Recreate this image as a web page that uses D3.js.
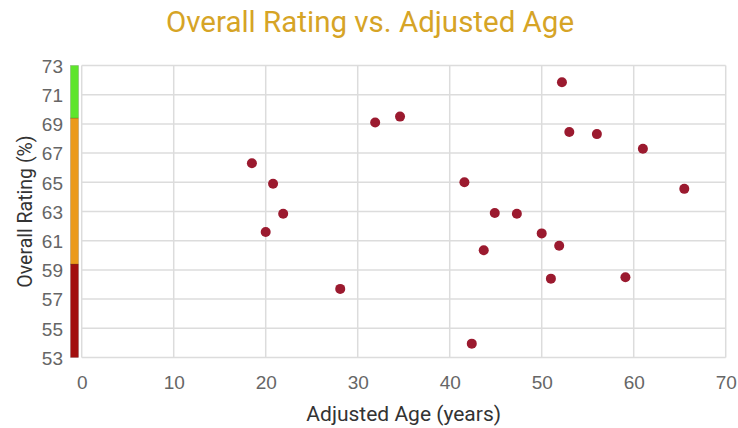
<!DOCTYPE html>
<html><head><meta charset="utf-8">
<script src="https://cdn.jsdelivr.net/npm/d3@7"></script>
<style>body{margin:0;background:#fff;}svg{display:block;font-family:Roboto,"Noto Sans",sans-serif;}</style>
</head><body>
<svg id="c" width="738" height="428"></svg>
<script>
const ages = [18.5, 20.8, 21.9, 20.0, 28.1, 31.9, 34.6, 41.6, 44.9, 43.7, 42.4, 52.2, 53.0, 56.0, 61.0, 65.5, 47.3, 50.0, 51.9, 51.0, 59.1];
const ratings = [66.3, 64.9, 62.85, 61.6, 57.7, 69.1, 69.5, 65.0, 62.9, 60.35, 53.95, 71.85, 68.45, 68.3, 67.3, 64.55, 62.85, 61.5, 60.65, 58.4, 58.5];
const xTicks = [0, 10, 20, 30, 40, 50, 60, 70];
const yTicks = [53, 55, 57, 59, 61, 63, 65, 67, 69, 71, 73];
const bandStops = [53, 59.4, 69.4, 73];
const bandColors = ["#a20f0f", "#eb9a1c", "#5ee52c"];

const svg = d3.select("#c");
const x = d3.scaleLinear().domain([0, 70]).range([81.7, 725.7]);
const y = d3.scaleLinear().domain([53, 73]).range([357.5, 65.5]);

// gridlines
svg.append("g").selectAll("line").data(yTicks).join("line")
  .attr("x1", x(0)).attr("x2", x(70)).attr("y1", d => y(d)).attr("y2", d => y(d))
  .attr("stroke", "#dcdcdc").attr("stroke-width", 1.5);
svg.append("g").selectAll("line").data(xTicks).join("line")
  .attr("y1", y(53)).attr("y2", y(73)).attr("x1", d => x(d)).attr("x2", d => x(d))
  .attr("stroke", "#dcdcdc").attr("stroke-width", 1.5);

// color band
const bands = d3.range(bandColors.length).map(i => ({lo: bandStops[i], hi: bandStops[i + 1], c: bandColors[i]}));
svg.append("g").selectAll("rect").data(bands).join("rect")
  .attr("x", 70.5).attr("width", 8)
  .attr("y", d => y(d.hi)).attr("height", d => y(d.lo) - y(d.hi))
  .attr("fill", d => d.c).attr("stroke", "rgba(0,0,0,0.25)").attr("stroke-width", 0.6);

// axes labels
const yAxis = d3.axisLeft(y).tickValues(yTicks).tickSize(0).tickPadding(0);
const gy = svg.append("g").attr("transform", "translate(63,0)").call(yAxis);
gy.select(".domain").remove();
gy.selectAll("text").attr("fill", "#666").style("font-size", "19px").attr("dy", "0.36em");

const xAxis = d3.axisBottom(x).tickValues(xTicks).tickSize(0).tickPadding(0);
const gx = svg.append("g").attr("transform", "translate(0,389)").call(xAxis);
gx.select(".domain").remove();
gx.selectAll("text").attr("fill", "#666").style("font-size", "19px").attr("dy", "0");

// points
svg.append("g").selectAll("circle").data(ages.map((a, i) => [a, ratings[i]])).join("circle")
  .attr("cx", d => x(d[0])).attr("cy", d => y(d[1])).attr("r", 5)
  .attr("fill", "#9b1a2f");

// titles
svg.append("text").attr("x", 370).attr("y", 32).attr("text-anchor", "middle")
  .attr("fill", "#d6a426").style("font-size", "29.5px").text("Overall Rating vs. Adjusted Age");
svg.append("text").attr("x", 403.7).attr("y", 421).attr("text-anchor", "middle")
  .attr("fill", "#333").style("font-size", "21px").text("Adjusted Age (years)");
svg.append("text").attr("transform", "translate(32,211.5) rotate(-90)").attr("text-anchor", "middle")
  .attr("fill", "#333").style("font-size", "19.5px").text("Overall Rating (%)");
</script>
</body></html>
